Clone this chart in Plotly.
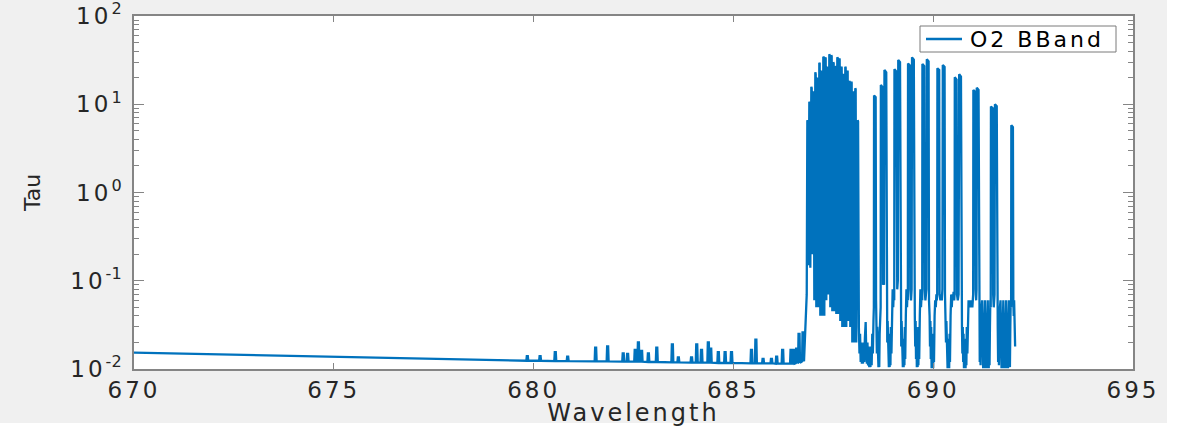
import plotly.graph_objects as go

# ---- data -------------------------------------------------------------
# smooth continuum before the weak lines
continuum_wl = [670.0, 675.0, 679.7]
continuum_tau = [0.0153, 0.0138, 0.0124]

# weak lines ahead of the band: centre wavelength, peak tau, local continuum
weak_wl = [679.83, 680.15, 680.53, 680.84, 681.54, 681.84, 682.23, 682.34,
           682.53, 682.61, 682.69, 682.86, 683.07, 683.46, 683.61, 683.94,
           684.07, 684.19, 684.36, 684.42, 684.61, 684.78, 684.94, 685.44,
           685.55, 685.73, 685.94, 686.07, 686.22, 686.43, 686.50, 686.57,
           686.63, 686.73]
weak_tau = [0.0140, 0.0140, 0.0155, 0.0138, 0.0175, 0.0180, 0.0150, 0.0148,
            0.0165, 0.0200, 0.0160, 0.0150, 0.0175, 0.0190, 0.0135, 0.0135,
            0.0190, 0.0165, 0.0200, 0.0170, 0.0155, 0.0155, 0.0155, 0.0165,
            0.0215, 0.0130, 0.0130, 0.0138, 0.0165, 0.0165, 0.0165, 0.0170,
            0.0250, 0.0260]
weak_base = [0.0124, 0.0124, 0.0123, 0.0123, 0.0122, 0.0122, 0.0121, 0.0121,
             0.0121, 0.0121, 0.0121, 0.0120, 0.0120, 0.0119, 0.0119, 0.0118,
             0.0118, 0.0118, 0.0118, 0.0118, 0.0117, 0.0117, 0.0117, 0.0116,
             0.0116, 0.0116, 0.0116, 0.0115, 0.0115, 0.0115, 0.0115, 0.0116,
             0.0118, 0.0122]

# R branch (band head), profile vertices
r_wl = [686.80, 686.835,
        686.85, 686.86, 686.875, 686.90, 686.91, 686.925,
        686.95, 686.96, 686.975, 687.00, 687.01, 687.025,
        687.05, 687.06, 687.075, 687.10, 687.11, 687.125,
        687.15, 687.16, 687.175, 687.20, 687.21, 687.225,
        687.25, 687.26, 687.275, 687.30, 687.31, 687.325,
        687.35, 687.36, 687.375, 687.40, 687.41, 687.425,
        687.45, 687.46, 687.475, 687.50, 687.51, 687.525,
        687.55, 687.56, 687.575, 687.60, 687.61, 687.625,
        687.65, 687.66, 687.675, 687.70, 687.71, 687.725,
        687.75, 687.76, 687.775, 687.80, 687.81, 687.825,
        687.85, 687.86, 687.875, 687.90, 687.91, 687.925,
        687.95, 687.96, 687.975, 688.00, 688.01, 688.025,
        688.05, 688.06, 688.075, 688.11, 688.12, 688.14]
r_tau = [0.030, 0.070,
         6.6, 6.4, 0.15, 10.7, 10.3, 0.14,
         15.8, 15.2, 0.20, 14.0, 13.5, 0.06,
         23.0, 22.0, 0.05, 20.0, 19.5, 0.05,
         29.6, 29.0, 0.04, 24.0, 23.5, 0.04,
         34.6, 34.0, 0.04, 34.0, 33.0, 0.06,
         26.6, 26.0, 0.07, 36.9, 36.0, 0.05,
         36.0, 35.0, 0.045, 30.0, 29.0, 0.045,
         27.0, 26.5, 0.042, 34.0, 33.5, 0.042,
         33.0, 32.0, 0.035, 26.6, 26.0, 0.03,
         22.0, 21.5, 0.03, 26.6, 26.0, 0.03,
         24.0, 23.5, 0.035, 18.3, 18.0, 0.03,
         18.0, 17.5, 0.02, 14.0, 13.5, 0.02,
         15.2, 14.8, 0.02, 6.6, 6.4, 0.03]

# P branch: doublet lines and the troughs between them, (wavelength, tau)
p_branch = [
    # trough after the band head
    (688.155, 0.015), (688.17, 0.025), (688.185, 0.012), (688.20, 0.02),
    (688.215, 0.0115), (688.23, 0.018), (688.245, 0.0115), (688.26, 0.02),
    (688.275, 0.012), (688.29, 0.022), (688.31, 0.034), (688.325, 0.015),
    (688.34, 0.0115), (688.355, 0.02), (688.37, 0.011), (688.385, 0.018),
    (688.40, 0.0105), (688.415, 0.017), (688.43, 0.0105), (688.445, 0.018),
    (688.46, 0.011), (688.475, 0.025), (688.49, 0.015), (688.505, 0.035),
    (688.515, 0.05),
    (688.52, 12.6), (688.56, 12.0), (688.57, 0.06), (688.58, 0.04),
    (688.59, 0.015), (688.60, 0.03), (688.61, 0.012), (688.62, 0.025),
    (688.63, 0.0105), (688.64, 0.02), (688.65, 0.0105), (688.66, 0.025),
    (688.67, 0.04), (688.685, 0.05),
    (688.69, 16.5), (688.735, 15.5), (688.745, 0.09), (688.76, 0.10),
    (688.77, 0.09), (688.78, 24.5), (688.825, 23.0), (688.835, 0.06),
    (688.845, 0.04),
    (688.85, 0.02), (688.86, 0.035), (688.87, 0.012), (688.88, 0.03),
    (688.89, 0.0105), (688.90, 0.025), (688.91, 0.0105), (688.92, 0.02),
    (688.93, 0.011), (688.94, 0.03), (688.955, 0.015), (688.97, 0.05),
    (688.985, 0.08), (689.00, 0.05), (689.015, 0.08), (689.025, 0.06),
    (689.03, 24.9), (689.075, 23.5), (689.085, 0.10), (689.10, 0.08),
    (689.115, 0.10), (689.125, 31.7), (689.17, 30.0), (689.18, 0.06),
    (689.19, 0.04),
    (689.20, 0.018), (689.21, 0.035), (689.22, 0.013), (689.23, 0.03),
    (689.24, 0.0105), (689.25, 0.022), (689.26, 0.0105), (689.27, 0.02),
    (689.28, 0.011), (689.29, 0.03), (689.30, 0.013), (689.315, 0.04),
    (689.33, 0.08), (689.345, 0.05), (689.355, 0.07), (689.365, 0.06),
    (689.37, 29.0), (689.415, 27.5), (689.425, 0.08), (689.445, 0.06),
    (689.46, 0.08), (689.47, 34.0), (689.515, 32.0), (689.525, 0.06),
    (689.54, 0.04),
    (689.55, 0.018), (689.56, 0.035), (689.57, 0.013), (689.58, 0.03),
    (689.59, 0.0105), (689.60, 0.022), (689.61, 0.0105), (689.62, 0.02),
    (689.63, 0.011), (689.64, 0.03), (689.65, 0.013), (689.665, 0.04),
    (689.68, 0.08), (689.695, 0.05), (689.71, 0.07), (689.725, 0.06),
    (689.73, 28.6), (689.775, 27.0), (689.785, 0.08), (689.805, 0.06),
    (689.83, 0.08), (689.84, 32.3), (689.885, 30.5), (689.895, 0.06),
    (689.91, 0.04),
    (689.92, 0.018), (689.93, 0.035), (689.94, 0.013), (689.95, 0.03),
    (689.96, 0.0102), (689.97, 0.022), (689.98, 0.0102), (689.99, 0.02),
    (690.00, 0.0102), (690.01, 0.025), (690.02, 0.012), (690.035, 0.04),
    (690.05, 0.06), (690.065, 0.05), (690.08, 0.07), (690.09, 0.06),
    (690.10, 0.07),
    (690.105, 25.6), (690.15, 24.5), (690.16, 0.07), (690.18, 0.06),
    (690.20, 0.07), (690.215, 0.06), (690.23, 0.08), (690.24, 27.9),
    (690.285, 26.5), (690.295, 0.07), (690.31, 0.04),
    (690.32, 0.02), (690.33, 0.035), (690.34, 0.013), (690.35, 0.03),
    (690.36, 0.0102), (690.37, 0.022), (690.38, 0.0102), (690.39, 0.02),
    (690.40, 0.0102), (690.41, 0.025), (690.42, 0.012), (690.435, 0.04),
    (690.45, 0.07), (690.465, 0.05), (690.48, 0.07), (690.495, 0.06),
    (690.51, 0.075), (690.525, 0.06), (690.535, 0.07),
    (690.54, 20.2), (690.585, 19.0), (690.595, 0.07), (690.615, 0.06),
    (690.635, 0.07), (690.65, 21.9), (690.695, 20.5), (690.705, 0.05),
    (690.72, 0.03),
    (690.73, 0.015), (690.74, 0.03), (690.75, 0.012), (690.76, 0.025),
    (690.77, 0.0102), (690.78, 0.02), (690.79, 0.0102), (690.80, 0.02),
    (690.81, 0.0102), (690.82, 0.022), (690.83, 0.011), (690.84, 0.03),
    (690.855, 0.015), (690.87, 0.04), (690.885, 0.06), (690.90, 0.05),
    (690.92, 0.06), (690.94, 0.05), (690.96, 0.06), (690.98, 0.05),
    (691.00, 0.07),
    (691.005, 14.5), (691.05, 13.8), (691.06, 0.08), (691.075, 0.06),
    (691.085, 0.08), (691.09, 15.4), (691.135, 14.5), (691.145, 0.06),
    (691.16, 0.03),
    (691.165, 0.012), (691.175, 0.03), (691.185, 0.011), (691.195, 0.025),
    (691.21, 0.05), (691.225, 0.06), (691.24, 0.02), (691.25, 0.0102),
    (691.26, 0.02), (691.27, 0.0102), (691.28, 0.03), (691.295, 0.06),
    (691.31, 0.02), (691.32, 0.0102), (691.33, 0.02), (691.34, 0.0102),
    (691.35, 0.03), (691.365, 0.06), (691.38, 0.02), (691.39, 0.0102),
    (691.40, 0.02), (691.41, 0.011), (691.42, 0.03), (691.43, 0.06),
    (691.44, 0.05),
    (691.445, 9.4), (691.49, 9.0), (691.50, 0.07), (691.515, 0.05),
    (691.535, 0.07), (691.545, 10.0), (691.59, 9.5), (691.60, 0.06),
    (691.615, 0.03),
    (691.625, 0.012), (691.635, 0.03), (691.645, 0.011), (691.655, 0.025),
    (691.67, 0.05), (691.685, 0.06), (691.70, 0.02), (691.71, 0.0102),
    (691.72, 0.02), (691.73, 0.0102), (691.74, 0.03), (691.755, 0.06),
    (691.77, 0.02), (691.78, 0.0102), (691.79, 0.02), (691.80, 0.0102),
    (691.81, 0.03), (691.825, 0.06), (691.84, 0.02), (691.85, 0.0102),
    (691.86, 0.02), (691.87, 0.0102), (691.88, 0.03), (691.895, 0.06),
    (691.91, 0.02), (691.92, 0.0105), (691.93, 0.03), (691.94, 0.06),
    (691.95, 0.05),
    (691.955, 5.8), (691.995, 5.5), (692.005, 0.06), (692.015, 0.04),
    (692.025, 0.06), (692.04, 0.03), (692.05, 0.018),
]

x_ticks = [670, 675, 680, 685, 690, 695]
y_ticks = [0.01, 0.1, 1, 10, 100]
y_powers = [-2, -1, 0, 1, 2]

# ---- assemble the spectrum ---------------------------------------------
wl = list(continuum_wl)
tau = list(continuum_tau)
for c, p, b in zip(weak_wl, weak_tau, weak_base):
    # each weak line is a narrow flat-topped pulse on the continuum
    wl += [c - 0.012, c, c + 0.025, c + 0.037]
    tau += [b, p, p, b]
wl += r_wl + [w for w, _ in p_branch]
tau += r_tau + [t for _, t in p_branch]

# ---- figure -------------------------------------------------------------
FONT = "DejaVu Sans"
TXT = "#262626"
AX = "#858585"
W, H = 1186, 427
ML, MR, MT, MB = 134, 53, 16, 58
PW, PH = W - ML - MR, H - MT - MB


def spaced(s, px):
    return f"<span style='letter-spacing:{px}px'>{s}</span>"


x_tick_text = [spaced(v, 3) for v in x_ticks]
y_tick_text = [spaced("10", 3) + f"<sup>{p}</sup>" for p in y_powers]

fig = go.Figure(go.Scatter(
    x=wl, y=tau, mode="lines", name="O2 BBand", showlegend=False,
    line=dict(color="#0072BD", width=2.3),
))

fig.update_layout(
    width=W, height=H,
    margin=dict(l=ML, r=MR, t=MT, b=MB, autoexpand=False),
    paper_bgcolor="#f0f0f0",
    plot_bgcolor="white",
    font=dict(family=FONT, color=TXT),
    xaxis=dict(
        range=[670, 695], tickmode="array", tickvals=x_ticks,
        ticktext=x_tick_text,
        ticks="inside", ticklen=6, tickwidth=1, tickcolor=AX,
        showline=True, linecolor=AX, linewidth=1.5, mirror="ticks",
        showgrid=False, zeroline=False, automargin=False,
        ticklabeloverflow="allow",
        tickfont=dict(family=FONT, size=23, color=TXT),
        title=dict(text=spaced("Wavelength", 3),
                   font=dict(family=FONT, size=24, color=TXT), standoff=3),
    ),
    yaxis=dict(
        type="log", range=[-2, 2], tickmode="array", tickvals=y_ticks,
        ticktext=y_tick_text,
        ticks="inside", ticklen=10, tickwidth=1, tickcolor=AX,
        minor=dict(ticks="inside", ticklen=5, tickcolor=AX, dtick="D1",
                   showgrid=False),
        showline=True, linecolor=AX, linewidth=1.5, mirror="ticks",
        showgrid=False, zeroline=False, automargin=False,
        ticklabeloverflow="allow",
        tickfont=dict(family=FONT, size=23, color=TXT),
        ticklabelstandoff=6,
        title=dict(text="Tau", font=dict(family=FONT, size=22, color=TXT),
                   standoff=24),
    ),
)


def px_x(x):
    return (x - ML) / PW


def px_y(y):
    return 1 - (y - MT) / PH


# legend: framed box, line sample and label
fig.add_shape(type="rect", xref="paper", yref="paper", layer="above",
              x0=px_x(920), x1=px_x(1116), y0=px_y(52), y1=px_y(26),
              fillcolor="white", line=dict(color="#7a7a7a", width=1))
fig.add_shape(type="line", xref="paper", yref="paper", layer="above",
              x0=px_x(926), x1=px_x(962), y0=px_y(39), y1=px_y(39),
              line=dict(color="#0072BD", width=2.3))
fig.add_annotation(xref="paper", yref="paper", x=px_x(968), y=px_y(39.5),
                   xanchor="left", yanchor="middle", showarrow=False,
                   text=spaced("O2 BBand", 3),
                   font=dict(family=FONT, size=22, color="#000000"))

# white strips beyond the figure window
fig.add_shape(type="rect", xref="paper", yref="paper", layer="above",
              x0=px_x(1167), x1=px_x(W + 10), y0=px_y(H + 10), y1=px_y(-10),
              fillcolor="white", line_width=0)
fig.add_shape(type="rect", xref="paper", yref="paper", layer="above",
              x0=px_x(-10), x1=px_x(W + 10), y0=px_y(H + 10), y1=px_y(423),
              fillcolor="white", line_width=0)

fig.write_html("out.html")
